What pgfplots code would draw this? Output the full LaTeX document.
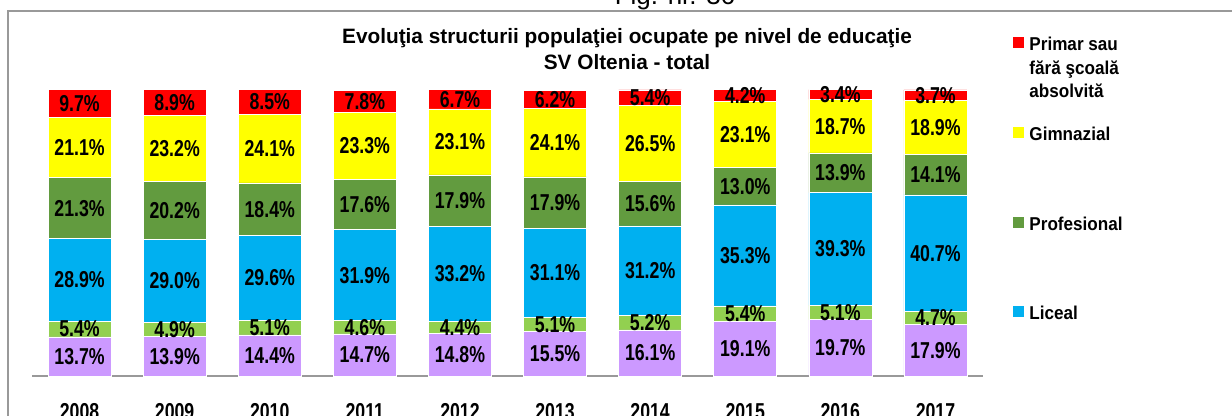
\documentclass[border=0pt]{standalone}
\usepackage{pgfplots}
\pgfplotsset{compat=1.18}
\usepackage{pgfplotstable}
\usepackage{fontspec}
\setmainfont{Liberation Sans}
\newfontfamily\labfont{Liberation Sans}[FakeStretch=0.77]
\newfontfamily\legfont{Liberation Sans}[FakeStretch=0.92]

\definecolor{cPrim}{HTML}{FF0000}
\definecolor{cGim}{HTML}{FFFF00}
\definecolor{cProf}{HTML}{629B3F}
\definecolor{cLic}{HTML}{00B0F0}
\definecolor{cPost}{HTML}{92D050}
\definecolor{cSup}{HTML}{CC99FF}
\definecolor{cFrame}{HTML}{999999}

\pgfplotstableread{
x year sup post lic prof gim prim
0 2008 13.7 5.4 28.9 21.3 21.1 9.7
1 2009 13.9 4.9 29.0 20.2 23.2 8.9
2 2010 14.4 5.1 29.6 18.4 24.1 8.5
3 2011 14.7 4.6 31.9 17.6 23.3 7.8
4 2012 14.8 4.4 33.2 17.9 23.1 6.7
5 2013 15.5 5.1 31.1 17.9 24.1 6.2
6 2014 16.1 5.2 31.2 15.6 26.5 5.4
7 2015 19.1 5.4 35.3 13.0 23.1 4.2
8 2016 19.7 5.1 39.3 13.9 18.7 3.4
9 2017 17.9 4.7 40.7 14.1 18.9 3.7
}\data

\newcommand{\legtext}[1]{\parbox[t]{75pt}{\legfont\bfseries\fontsize{9.3}{11.75}\selectfont #1}}

\begin{document}
\begin{tikzpicture}
\useasboundingbox (0,0) rectangle (616pt,208pt);
\clip (0,0) rectangle (616pt,208pt);
\fill[white] (0,0) rectangle (616pt,208pt);
\draw[cFrame, line width=1pt] (4pt,-5pt) |- (630pt,202.5pt);
\node[anchor=base, inner sep=0pt, font=\fontsize{13}{15}\selectfont] at (337.5pt,205.75pt) {Fig. nr. 36};
\begin{axis}[
  at={(16pt,20pt)}, anchor=south west,
  width=475.5pt, height=143pt, scale only axis,
  xmin=-0.5, xmax=9.5, ymin=0, ymax=100,
  clip=false,
  ybar stacked, bar width=31.5pt,
  axis x line*=bottom, axis y line=none,
  x axis line style={-, draw=cFrame, line width=0.75pt},
  xtick={0,...,9},
  xticklabels={2008,2009,2010,2011,2012,2013,2014,2015,2016,2017},
  ytick=\empty,
  major tick length=0pt,
  xticklabel style={font=\labfont\bfseries\fontsize{11.5}{12}\selectfont, anchor=base, yshift=-21.7pt, inner sep=0pt},
  point meta=explicit,
  nodes near coords={\pgfmathprintnumber[fixed,fixed zerofill,precision=1,assume math mode=true]{\pgfplotspointmeta}\%},
  every node near coord/.append style={font=\labfont\bfseries\fontsize{11.5}{12}\selectfont, text=black, anchor=center, inner sep=0pt},
  title={Evoluţia structurii populaţiei ocupate pe nivel de educaţie\\SV Oltenia - total},
  title style={at={(0.6257,1.1734)}, anchor=north, align=center, inner sep=0pt, font=\bfseries\fontsize{10.4}{13}\selectfont},
  reverse legend,
  legend image code/.code={\fill[#1, draw=none] (0pt,1.3pt) rectangle (5.5pt,6.8pt);},
  legend style={at={(1.0316,1.186)}, anchor=north west, draw=none, fill=none, inner sep=0pt, row sep=14.5pt, column sep=2.5pt, nodes={inner sep=0pt, text depth=}, cells={anchor=base west}},
]
\addplot[fill=cSup, draw=white, line width=0.3pt, forget plot] table[x=x, y=sup, meta=sup] {\data};
\addplot[fill=cPost, draw=white, line width=0.3pt, forget plot] table[x=x, y=post, meta=post] {\data};
\addplot[fill=cLic, draw=white, line width=0.3pt] table[x=x, y=lic, meta=lic] {\data};
\addlegendentry{\legtext{Liceal\\\mbox{}\\\mbox{}}}
\addplot[fill=cProf, draw=white, line width=0.3pt] table[x=x, y=prof, meta=prof] {\data};
\addlegendentry{\legtext{Profesional\\\mbox{}\\\mbox{}}}
\addplot[fill=cGim, draw=white, line width=0.3pt] table[x=x, y=gim, meta=gim] {\data};
\addlegendentry{\legtext{Gimnazial\\\mbox{}\\\mbox{}}}
\addplot[fill=cPrim, draw=white, line width=0.3pt] table[x=x, y=prim, meta=prim] {\data};
\addlegendentry{\legtext{Primar sau\\fără şcoală\\absolvită}}
\end{axis}
\end{tikzpicture}
\end{document}
